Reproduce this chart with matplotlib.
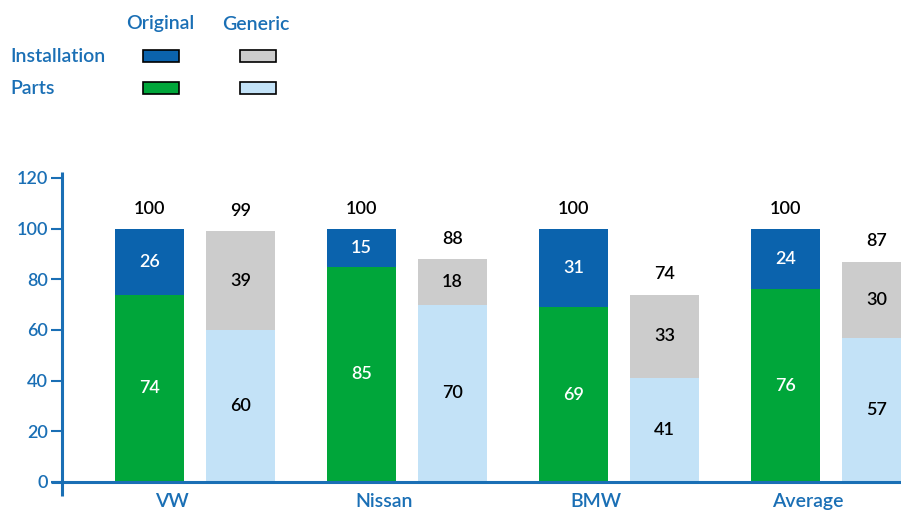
import matplotlib.pyplot as plt
from matplotlib.patches import Rectangle
import numpy as np

categories = ['VW', 'Nissan', 'BMW', 'Average']
orig_parts = [74, 85, 69, 76]
orig_install = [26, 15, 31, 24]
gen_parts = [60, 70, 41, 57]
gen_install = [39, 18, 33, 30]
orig_total = [100, 100, 100, 100]
gen_total = [99, 88, 74, 87]
yticks = [0, 20, 40, 60, 80, 100, 120]

BLUE = '#0b63ad'
GREEN = '#00a63a'
GRAY = '#cccccc'
LIGHT = '#c3e2f7'
TXT = '#1a6fb5'

plt.rcParams['font.family'] = ['Lato', 'DejaVu Sans']
plt.rcParams['font.weight'] = 'semibold'

W, H = 901, 512
fig = plt.figure(figsize=(W / 100, H / 100), dpi=100)
ax = fig.add_axes([62 / W, 30 / H, (W - 62) / W, 304 / H])

x = np.arange(len(categories))
off = 0.2146
bw = 0.325

ax.bar(x - off, orig_parts, bw, color=GREEN)
ax.bar(x - off, orig_install, bw, bottom=orig_parts, color=BLUE)
ax.bar(x + off, gen_parts, bw, color=LIGHT)
ax.bar(x + off, gen_install, bw, bottom=gen_parts, color=GRAY)

fs = 13
for i in range(len(categories)):
    ax.text(x[i] - off, orig_parts[i] / 2, str(orig_parts[i]), ha='center', va='center', color='white', fontsize=fs)
    ax.text(x[i] - off, orig_parts[i] + orig_install[i] / 2, str(orig_install[i]), ha='center', va='center', color='white', fontsize=fs)
    ax.text(x[i] + off, gen_parts[i] / 2, str(gen_parts[i]), ha='center', va='center', color='black', fontsize=fs)
    ax.text(x[i] + off, gen_parts[i] + gen_install[i] / 2, str(gen_install[i]), ha='center', va='center', color='black', fontsize=fs)
    ax.annotate(str(orig_total[i]), (x[i] - off, orig_total[i]), xytext=(0, 14.5), textcoords='offset points',
                ha='center', va='center', color='black', fontsize=fs)
    ax.annotate(str(gen_total[i]), (x[i] + off, gen_total[i]), xytext=(0, 14.5), textcoords='offset points',
                ha='center', va='center', color='black', fontsize=fs)
    ax.annotate(categories[i], (x[i] - 0.11, 0), xytext=(0, -14), textcoords='offset points',
                ha='center', va='center', color=TXT, fontsize=14, annotation_clip=False)

ax.set_xlim(-0.627, 3.33)
ax.set_ylim(0, 120)
for s in ax.spines.values():
    s.set_visible(False)

# axis lines drawn by hand so they overrun a bit like the original
ax.plot([-0.627, -0.627], [-5.5, 122.5], color=TXT, lw=2.2, clip_on=False, solid_capstyle='butt')
ax.plot([-0.68, 3.33], [0, 0], color=TXT, lw=2.2, clip_on=False, solid_capstyle='butt')

ax.set_xticks([])
ax.set_yticks(yticks)
ax.tick_params(axis='y', direction='out', length=8, width=1.5, color=TXT, labelcolor=TXT, labelsize=13, pad=2)

# legend block
fig.text(160 / W, 1 - 24 / H, 'Original', ha='center', va='center', color=TXT, fontsize=14)
fig.text(256 / W, 1 - 24 / H, 'Generic', ha='center', va='center', color=TXT, fontsize=14)
fig.text(10 / W, 1 - 56 / H, 'Installation', ha='left', va='center', color=TXT, fontsize=14)
fig.text(10 / W, 1 - 88 / H, 'Parts', ha='left', va='center', color=TXT, fontsize=14)
for (px, py, c) in [(143, 50, BLUE), (240, 50, GRAY), (143, 82, GREEN), (240, 82, LIGHT)]:
    fig.patches.append(Rectangle((px / W, 1 - (py + 12) / H), 36 / W, 12 / H, transform=fig.transFigure,
                                 facecolor=c, edgecolor='black', lw=1.2))

fig.savefig('out.png', dpi=100)
